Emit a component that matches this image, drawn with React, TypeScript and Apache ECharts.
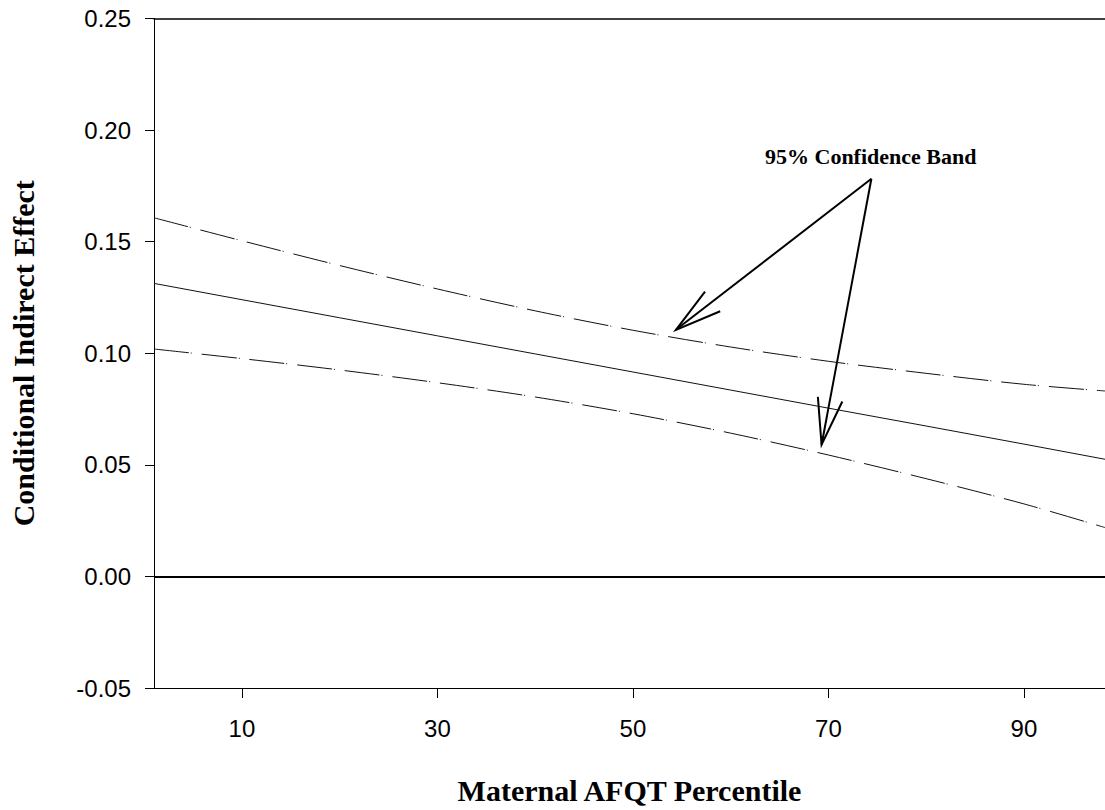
import React, { useEffect, useRef } from "react";
import * as echarts from "echarts";

const percentiles = [1, 10, 20, 30, 40, 50, 60, 70, 80, 90, 98.3];
const effect = [0.1313, 0.124, 0.1159, 0.1078, 0.0997, 0.0916, 0.0835, 0.0754, 0.0674, 0.0593, 0.0525];
const upperBand = [0.1607, 0.1504, 0.1393, 0.1288, 0.119, 0.1103, 0.1028, 0.0964, 0.091, 0.0861, 0.0831];
const lowerBand = [0.1019, 0.0976, 0.0925, 0.0868, 0.0804, 0.0729, 0.0642, 0.0544, 0.0438, 0.0325, 0.0219];
const xTickValues = [10, 30, 50, 70, 90];
// arrows: [fromX, fromY, toX, toY] in data units
const arrows = [
  [74.4, 0.1782, 54.4, 0.1105],
  [74.4, 0.1782, 69.3, 0.059],
];
const annotation = "95% Confidence Band";

const SERIF = "'Liberation Serif', 'Times New Roman', serif";
const SANS = "'Liberation Sans', Arial, sans-serif";

export default function App() {
  const ref = useRef<HTMLDivElement>(null);
  useEffect(() => {
    document.body.style.margin = "0";
    if (!ref.current) return;
    const chart = echarts.init(ref.current, null, { renderer: "svg" });
    const pairs = (ys: number[]) => percentiles.map((x, i) => [x, ys[i]]);
    const bandStyle = { color: "#111", width: 1, type: [35, 2, 1, 10] as any };
    chart.setOption({
      animation: false,
      backgroundColor: "#fff",
      grid: { left: 144, right: 0, top: 18.5, bottom: 116.5, containLabel: false },
      xAxis: [
        {
          type: "value",
          min: 1,
          max: 98.3,
          name: "Maternal AFQT Percentile",
          nameLocation: "middle",
          nameGap: 87,
          nameTextStyle: { fontFamily: SERIF, fontWeight: "bold", fontSize: 30, color: "#000" },
          axisLine: { show: true, onZero: false, lineStyle: { color: "#000", width: 1 } },
          axisTick: { show: true, length: 10, customValues: xTickValues, lineStyle: { color: "#000" } },
          axisLabel: {
            customValues: xTickValues,
            margin: 28,
            fontFamily: SANS,
            fontSize: 24,
            color: "#000",
          },
          splitLine: { show: false },
        },
        {
          type: "value",
          position: "top",
          min: 1,
          max: 98.3,
          axisLine: { show: true, onZero: false, lineStyle: { color: "#000", width: 1.5 } },
          axisTick: { show: false },
          axisLabel: { show: false },
          splitLine: { show: false },
        },
      ],
      yAxis: {
        type: "value",
        min: -0.05,
        max: 0.25,
        interval: 0.05,
        name: "Conditional Indirect Effect",
        nameLocation: "middle",
        nameGap: 116,
        nameRotate: 90,
        nameTextStyle: { fontFamily: SERIF, fontWeight: "bold", fontSize: 30, color: "#000" },
        axisLine: { show: true, onZero: false, lineStyle: { color: "#000", width: 1 } },
        axisTick: { show: true, length: 9, lineStyle: { color: "#000" } },
        axisLabel: {
          margin: 23,
          fontFamily: SANS,
          fontSize: 24,
          color: "#000",
          formatter: (v: number) => v.toFixed(2),
        },
        splitLine: { show: false },
      },
      series: [
        {
          type: "line",
          data: pairs(effect),
          showSymbol: false,
          lineStyle: { color: "#111", width: 1 },
          markLine: {
            silent: true,
            symbol: "none",
            label: { show: false },
            lineStyle: { color: "#000", width: 2, type: "solid" },
            data: [{ yAxis: 0 }],
          },
        },
        { type: "line", data: pairs(upperBand), showSymbol: false, smooth: 0.3, lineStyle: bandStyle },
        { type: "line", data: pairs(lowerBand), showSymbol: false, smooth: 0.3, lineStyle: bandStyle },
        {
          type: "custom",
          clip: false,
          data: arrows,
          encode: { x: [0, 2], y: [1, 3] },
          renderItem: (params: any, api: any) => {
            const p0 = api.coord([api.value(0), api.value(1)]);
            const p1 = api.coord([api.value(2), api.value(3)]);
            const ang = Math.atan2(p0[1] - p1[1], p0[0] - p1[0]);
            const L = 48;
            const spread = (15 * Math.PI) / 180;
            const w1 = [p1[0] + L * Math.cos(ang + spread), p1[1] + L * Math.sin(ang + spread)];
            const w2 = [p1[0] + L * Math.cos(ang - spread), p1[1] + L * Math.sin(ang - spread)];
            const style = { stroke: "#000", lineWidth: 2, fill: null };
            return {
              type: "group",
              children: [
                { type: "line", shape: { x1: p0[0], y1: p0[1], x2: p1[0], y2: p1[1] }, style },
                { type: "polyline", shape: { points: [w1, p1, w2] }, style },
              ],
            };
          },
        },
      ],
      graphic: [
        {
          type: "text",
          left: 765,
          top: 145,
          style: {
            text: annotation,
            fontFamily: SERIF,
            fontWeight: "bold",
            fontSize: 22,
            fill: "#000",
          },
        },
      ],
    });
    return () => chart.dispose();
  }, []);
  return <div ref={ref} style={{ width: 1105, height: 810 }} />;
}
